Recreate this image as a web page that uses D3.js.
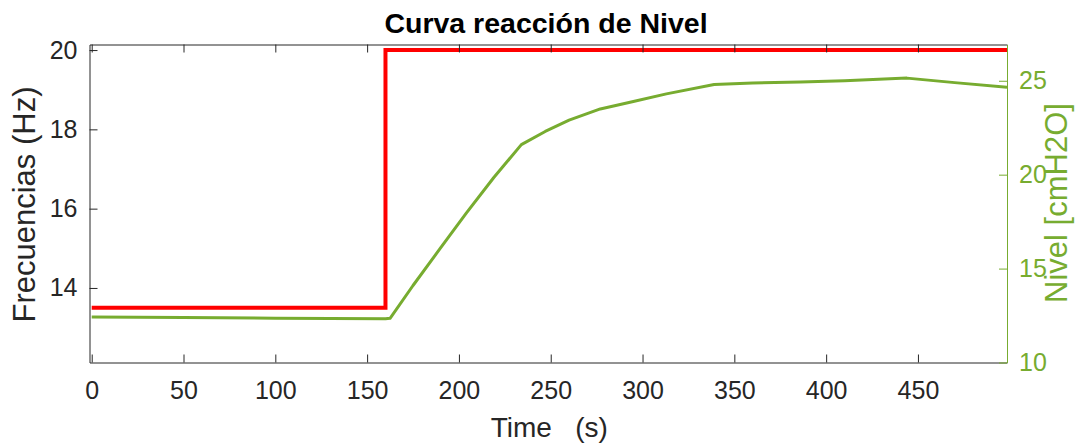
<!DOCTYPE html>
<html>
<head>
<meta charset="utf-8">
<script src="https://cdn.jsdelivr.net/npm/d3@7"></script>
<style>
  html, body { margin: 0; padding: 0; background: #fff; }
  svg { display: block; }
  text { font-family: "Liberation Sans", Arial, Helvetica, sans-serif; }
</style>
</head>
<body>
<svg id="chart" width="1076" height="445"></svg>
<script>
// ---- data ----
const freqTime = [0, 160, 160, 498.5];
const freqValues = [13.5, 13.5, 20, 20];

const levelTime = [0, 50, 100, 160, 162.5, 175, 190, 204, 219, 234, 247, 260, 277, 295, 313, 339, 360, 386, 410, 444, 470, 498.5];
const levelValues = [12.42, 12.40, 12.36, 12.33, 12.35, 14.1, 16.1, 17.95, 19.85, 21.6, 22.3, 22.9, 23.5, 23.9, 24.3, 24.8, 24.88, 24.93, 25.0, 25.14, 24.9, 24.66];

const xTicks = [0, 50, 100, 150, 200, 250, 300, 350, 400, 450];
const yLeftTicks = [14, 16, 18, 20];
const yRightTicks = [10, 15, 20, 25];

const titleText = "Curva reacción de Nivel";
const xLabel = "Time   (s)";
const yLeftLabel = "Frecuencias (Hz)";
const yRightLabel = "Nivel [cmH2O]";

// ---- layout ----
const L = 89.5, R = 1007, T = 44.5, B = 362.5;
const axisCol = "#262626";
const green = "#77AC30";
const red = "#FF0000";

const svg = d3.select("#chart");

const x = d3.scaleLinear().domain([-1.2, 498.5]).range([L, R]);
const yL = d3.scaleLinear().domain([12.12, 20.14]).range([B, T]);
const yR = d3.scaleLinear().domain([10, 26.93]).range([B, T]);

// ---- data lines ----
svg.append("clipPath").attr("id", "clip")
  .append("rect").attr("x", L).attr("y", T - 3).attr("width", R - L).attr("height", B - T + 3);

const plot = svg.append("g").attr("clip-path", "url(#clip)");

plot.append("path")
  .datum(levelTime.map((t, i) => [t, levelValues[i]]))
  .attr("fill", "none")
  .attr("stroke", green)
  .attr("stroke-width", 3)
  .attr("stroke-linejoin", "round")
  .attr("d", d3.line().x(d => x(d[0])).y(d => yR(d[1])));

plot.append("path")
  .datum(freqTime.map((t, i) => [t, freqValues[i]]))
  .attr("fill", "none")
  .attr("stroke", red)
  .attr("stroke-width", 4)
  .attr("stroke-linejoin", "miter")
  .attr("d", d3.line().x(d => x(d[0])).y(d => yL(d[1])));

// ---- axes ----
const fs = 25;

const gBottom = svg.append("g").attr("transform", `translate(0,${B})`)
  .call(d3.axisBottom(x).tickValues(xTicks).tickSizeInner(-8).tickSizeOuter(0).tickPadding(19));
const gTop = svg.append("g").attr("transform", `translate(0,${T})`)
  .call(d3.axisTop(x).tickValues(xTicks).tickSizeInner(-8).tickSizeOuter(0).tickFormat(""));
const gLeft = svg.append("g").attr("transform", `translate(${L},0)`)
  .call(d3.axisLeft(yL).tickValues(yLeftTicks).tickSizeInner(-8).tickSizeOuter(0).tickPadding(12));
const gRight = svg.append("g").attr("transform", `translate(${R},0)`)
  .call(d3.axisRight(yR).tickValues(yRightTicks).tickSizeInner(-8).tickSizeOuter(0).tickPadding(12));

[gBottom, gTop, gLeft].forEach(g => {
  g.select(".domain").attr("stroke", axisCol).attr("stroke-width", 1);
  g.selectAll(".tick line").attr("stroke", axisCol).attr("stroke-width", 1);
  g.selectAll(".tick text").attr("fill", axisCol).attr("font-size", fs).attr("font-family", null);
});
gRight.select(".domain").attr("stroke", green).attr("stroke-width", 1);
gRight.selectAll(".tick line").attr("stroke", green).attr("stroke-width", 1);
gRight.selectAll(".tick text").attr("fill", green).attr("font-size", fs).attr("font-family", null);
svg.selectAll(".tick text").style("font-family", '"Liberation Sans", Arial, sans-serif');

// ---- labels ----
svg.append("text")
  .attr("x", 546).attr("y", 33)
  .attr("text-anchor", "middle")
  .attr("font-size", 28.5).attr("font-weight", "bold").attr("fill", "#000")
  .text(titleText);

svg.append("text")
  .attr("x", (L + R) / 2 + 1).attr("y", 437)
  .attr("text-anchor", "middle").style("white-space", "pre")
  .attr("font-size", 28).attr("fill", axisCol)
  .text(xLabel);

svg.append("text")
  .attr("transform", `translate(35,${(T + B) / 2 + 1}) rotate(-90)`)
  .attr("text-anchor", "middle")
  .attr("font-size", 31).attr("fill", axisCol)
  .text(yLeftLabel);

svg.append("text")
  .attr("transform", `translate(1067,${203}) rotate(-90)`)
  .attr("text-anchor", "middle")
  .attr("font-size", 31).attr("fill", green)
  .text(yRightLabel);
</script>
</body>
</html>
